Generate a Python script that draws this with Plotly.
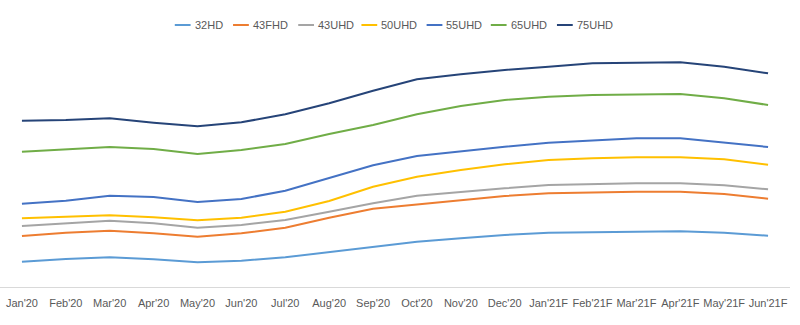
import plotly.graph_objects as go

categories = ["Jan'20", "Feb'20", "Mar'20", "Apr'20", "May'20", "Jun'20", "Jul'20", "Aug'20",
              "Sep'20", "Oct'20", "Nov'20", "Dec'20", "Jan'21F", "Feb'21F", "Mar'21F",
              "Apr'21F", "May'21F", "Jun'21F"]

s_32HD = [25.3, 28, 29.7, 27.7, 24.7, 26.3, 29.7, 34.7, 40.3, 45.3, 48.7, 52, 54.3, 55, 55.7, 55.7, 54.3, 51.3]
s_43FHD = [51, 54.3, 56.3, 53.7, 50.3, 53.7, 59.3, 69.3, 78.3, 82.7, 87, 91, 93.7, 94.7, 95.3, 95.3, 93, 88.3]
s_43UHD = [61, 63.7, 66.3, 63.7, 59.3, 62, 67, 75.3, 83.7, 91.3, 95.3, 98.7, 102, 103, 103.7, 103.7, 101.7, 97.7]
s_50UHD = [68.7, 70.3, 71.7, 69.7, 66.7, 69.3, 75.3, 86, 100.3, 110.3, 117, 122.7, 127, 128.7, 129.7, 129.7, 127.7, 122.3]
s_55UHD = [83.3, 86.3, 91.3, 90, 85, 88, 96.3, 109.3, 121.7, 131, 136, 140.3, 144.3, 146.7, 148.7, 148.7, 144.7, 140]
s_65UHD = [135.3, 137.7, 140, 138, 133, 137, 143, 153, 162, 172.7, 181, 187, 190.3, 192, 192.7, 193, 188.7, 182]
s_75UHD = [166.3, 167, 168.7, 164.3, 160.7, 164.7, 172.7, 183.7, 196.3, 207.7, 212.7, 217, 220.3, 223.7, 224.3, 224.7, 220.3, 213.7]

series_names = ["32HD", "43FHD", "43UHD", "50UHD", "55UHD", "65UHD", "75UHD"]
series_values = [s_32HD, s_43FHD, s_43UHD, s_50UHD, s_55UHD, s_65UHD, s_75UHD]
colors = ["#5B9BD5", "#ED7D31", "#A5A5A5", "#FFC000", "#4472C4", "#70AD47", "#264478"]

W, H = 800, 325
fig = go.Figure()
for name, vals, col in zip(series_names, series_values, colors):
    fig.add_trace(go.Scatter(x=categories, y=vals, name=name, mode="lines",
                             line=dict(color=col, width=2), showlegend=False))

# custom compact legend (Excel-style short line samples)
legend_x = [177, 236, 302, 366, 432, 497, 564]
legend_y = 25
shapes = []
annotations = []
for lx, name, col in zip(legend_x, series_names, colors):
    shapes.append(dict(type="line", xref="paper", yref="paper",
                       x0=lx / W, x1=(lx + 16) / W,
                       y0=1 + (40 - legend_y) / 247, y1=1 + (40 - legend_y) / 247,
                       line=dict(color=col, width=2)))
    annotations.append(dict(xref="paper", yref="paper", x=(lx + 18) / W,
                            y=1 + (40 - legend_y) / 247, text=name, showarrow=False,
                            xanchor="left", yanchor="middle",
                            font=dict(family="Liberation Sans, Arial", size=11, color="#595959")))

fig.update_layout(
    width=W, height=H,
    margin=dict(l=0, r=10, t=40, b=38),
    paper_bgcolor="white", plot_bgcolor="white",
    shapes=shapes, annotations=annotations,
    showlegend=False,
    xaxis=dict(type="category", range=[-0.5, 17.5], showgrid=False, zeroline=False,
               showline=True, linecolor="#D9D9D9", linewidth=1, ticks="",
               ticklabelstandoff=6,
               tickfont=dict(family="Liberation Sans, Arial", size=11, color="#595959")),
    yaxis=dict(range=[0, 247], showgrid=False, zeroline=False, showticklabels=False,
               showline=False, ticks=""),
)

fig.write_html("out.html")
